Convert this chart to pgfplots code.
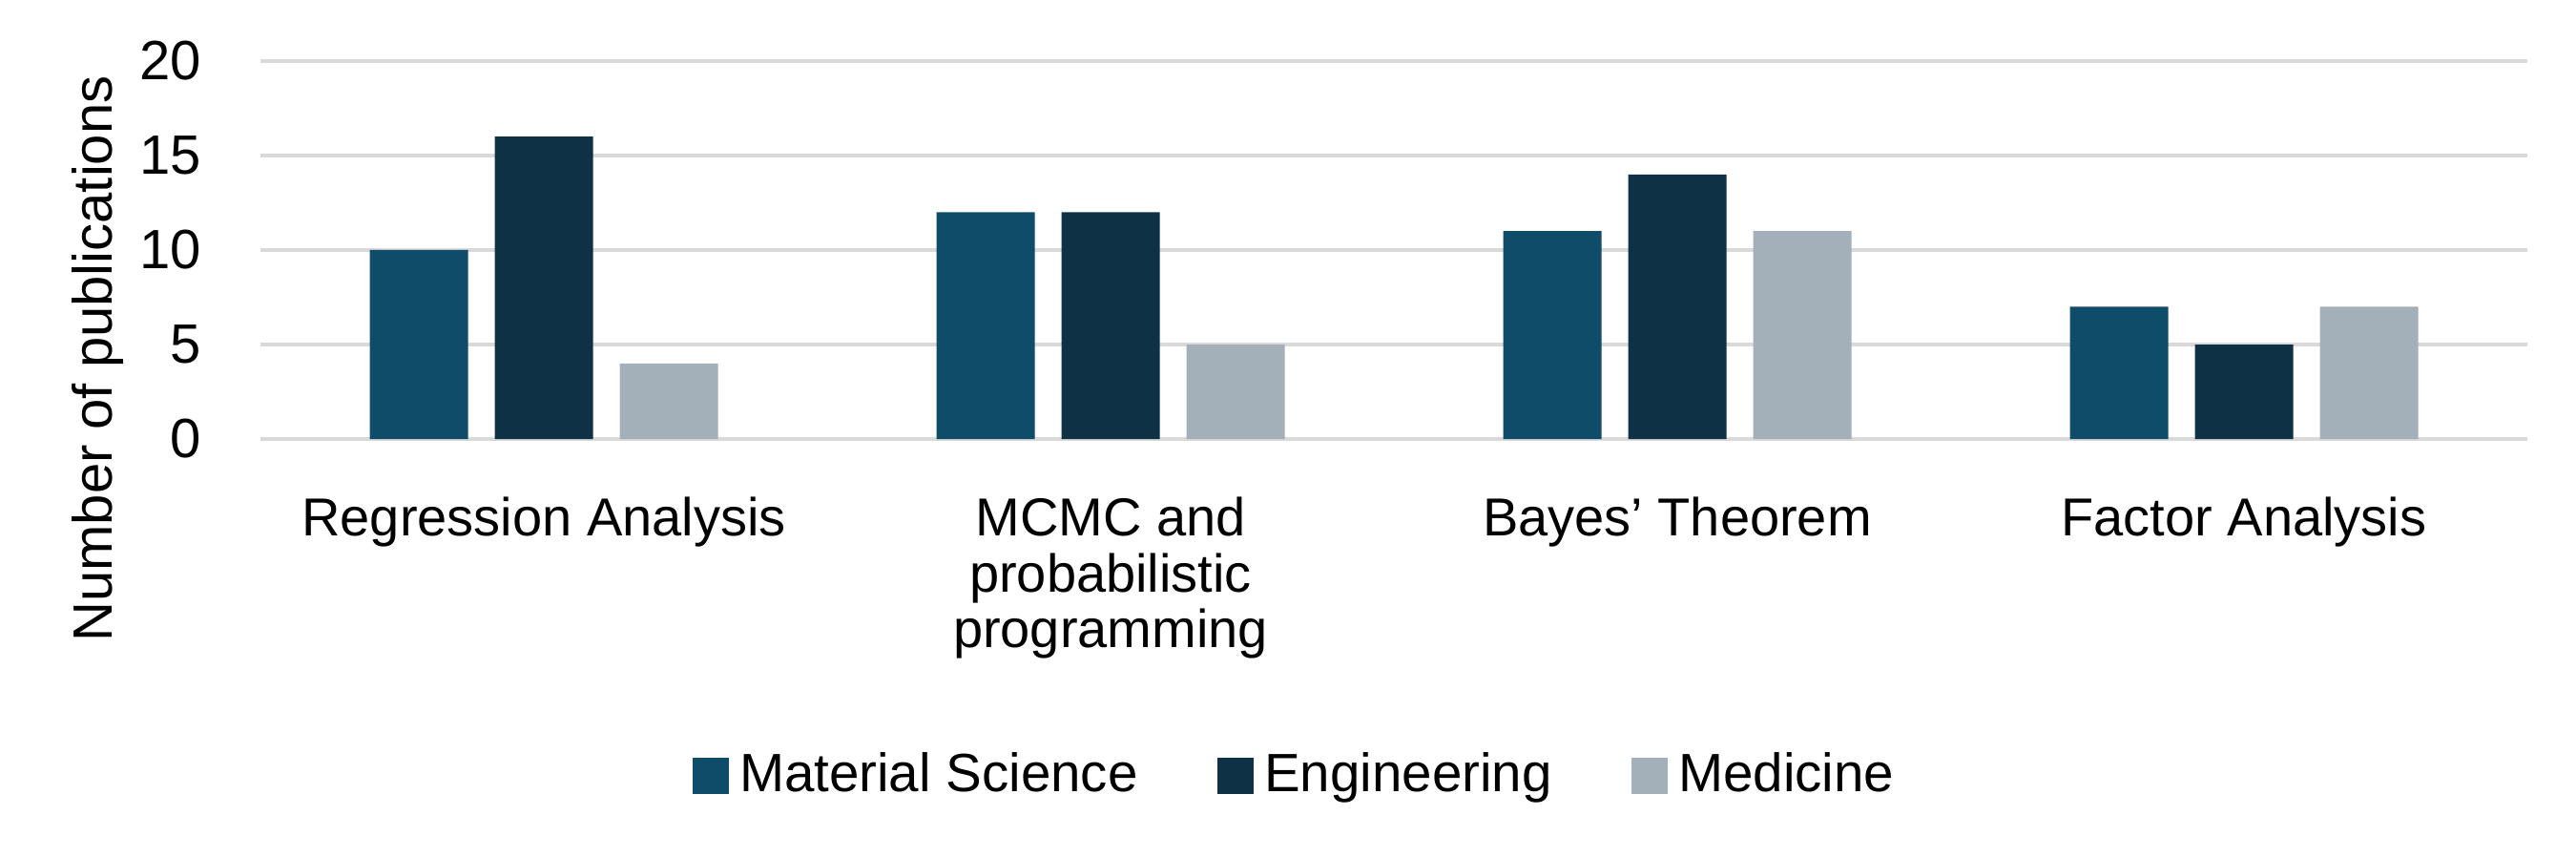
\documentclass[border=0pt]{standalone}
\usepackage{pgfplots}
\pgfplotsset{compat=1.18}
\usepackage{fontspec}
\setmainfont{Liberation Sans}
\definecolor{matsci}{HTML}{0F4C6A}
\definecolor{engin}{HTML}{0E3145}
\definecolor{medic}{HTML}{A3AFB9}
\definecolor{gridc}{HTML}{D9D9D9}
\begin{document}
\begin{tikzpicture}
\path[use as bounding box] (0,0) rectangle (540pt,179.4pt);
\begin{axis}[
  at={(54.6pt,87.4pt)}, anchor=south west,
  scale only axis,
  width=475.2pt, height=79.2pt,
  ybar=5.6pt, bar width=20.6pt,
  xmin=-0.5, xmax=3.5,
  ymin=0, ymax=20,
  ytick={0,5,10,15,20},
  xtick={0,1,2,3},
  xticklabels={Regression Analysis, {MCMC and\\probabilistic\\programming}, Bayes’ Theorem, Factor Analysis},
  major tick length=0pt,
  axis line style={draw=none},
  ymajorgrids, grid style={gridc, line width=0.7pt},
  /pgf/number format/assume math mode=true,
  xticklabel style={font=\fontsize{11.2}{11.7}\selectfont, anchor=north, align=center, inner sep=0pt, yshift=-12pt},
  yticklabel style={font=\fontsize{11.6}{12}\selectfont, anchor=east, inner sep=0pt, xshift=-12.2pt},
  ylabel={Number of publications},
  every axis y label/.style={at={(axis description cs:-0.0716,0.212)}, rotate=90, anchor=center, inner sep=0pt, font=\fontsize{11.6}{12}\selectfont},
  legend columns=3,
  legend style={at={(axis description cs:0.458,-0.891)}, anchor=center, draw=none,
    font=\fontsize{11.3}{11.7}\selectfont,
    /tikz/every even column/.append style={column sep=14.5pt},
    nodes={inner sep=2.2pt}},
  legend image code/.code={\fill[#1,draw=none] (0pt,-3.8pt) rectangle (7.6pt,3.8pt);},
]
\addplot[fill=matsci, draw=none] coordinates {(0,10) (1,12) (2,11) (3,7)};
\addplot[fill=engin, draw=none] coordinates {(0,16) (1,12) (2,14) (3,5)};
\addplot[fill=medic, draw=none] coordinates {(0,4) (1,5) (2,11) (3,7)};
\legend{Material Science, Engineering, Medicine}
\end{axis}
\end{tikzpicture}
\end{document}
